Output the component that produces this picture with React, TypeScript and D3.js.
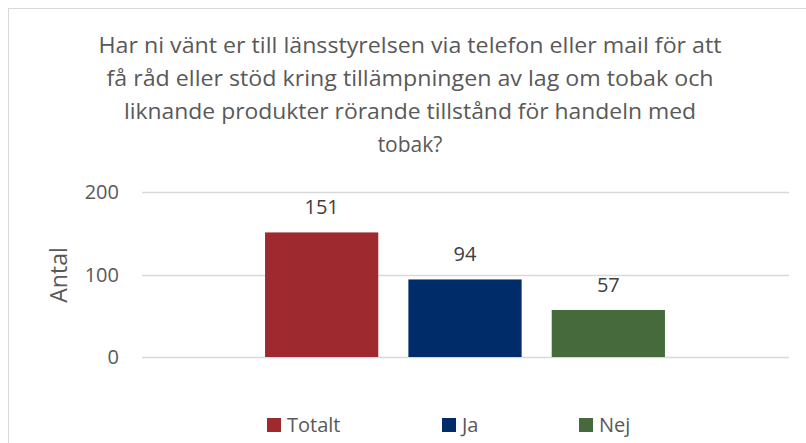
import React, { useEffect, useRef } from "react";
import * as d3 from "d3";

const titleLines = [
  "Har ni vänt er till länsstyrelsen via telefon eller mail för att",
  "få råd eller stöd kring tillämpningen av lag om tobak och",
  "liknande produkter rörande tillstånd för handeln med",
  "tobak?",
];
const seriesNames = ["Totalt", "Ja", "Nej"];
const seriesValues = [151, 94, 57];
const seriesColors = ["#9E2A2F", "#002D69", "#466A3C"];
const yTicks = [0, 100, 200];
const yLabel = "Antal";

export default function App() {
  const ref = useRef<SVGSVGElement>(null);

  useEffect(() => {
    const svg = d3.select(ref.current);
    svg.selectAll("*").remove();

    const font = "'Open Sans', sans-serif";
    const textColor = "#595959";

    // chart border (runs off the right/bottom edge like the original)
    svg.append("rect")
      .attr("x", 8.5).attr("y", 8.5)
      .attr("width", 820).attr("height", 460)
      .attr("fill", "#fff")
      .attr("stroke", "#D9D9D9");

    // title, squeezed a bit to the original line widths
    const titleWidths = [623, 607, 572, 0];
    svg.append("g").selectAll("text")
      .data(titleLines)
      .enter().append("text")
      .attr("x", 410)
      .attr("y", (d, i) => 53 + i * 33)
      .attr("text-anchor", "middle")
      .attr("font-family", font)
      .attr("font-size", 21)
      .attr("fill", textColor)
      .each(function (d, i) {
        if (titleWidths[i]) {
          d3.select(this).attr("textLength", titleWidths[i]).attr("lengthAdjust", "spacingAndGlyphs");
        }
      })
      .text(d => d);

    const y = d3.scaleLinear().domain([0, 200]).range([357, 192]);
    const x = d3.scaleBand<string>()
      .domain(seriesNames)
      .range([250, 680])
      .paddingInner(0.21)
      .paddingOuter(0.105);

    // gridlines
    svg.append("g").selectAll("line")
      .data(yTicks)
      .enter().append("line")
      .attr("x1", 142).attr("x2", 789)
      .attr("y1", d => Math.round(y(d)) + 0.5)
      .attr("y2", d => Math.round(y(d)) + 0.5)
      .attr("stroke", "#D9D9D9")
      .attr("stroke-width", 1.5);

    // y tick labels
    svg.append("g").selectAll("text")
      .data(yTicks)
      .enter().append("text")
      .attr("x", 119)
      .attr("y", d => y(d) + 7)
      .attr("text-anchor", "end")
      .attr("font-family", font)
      .attr("font-size", 20)
      .attr("fill", textColor)
      .text(d => d3.format("d")(d));

    // axis title
    svg.append("text")
      .attr("transform", "translate(67,275) rotate(-90)")
      .attr("text-anchor", "middle")
      .attr("font-family", font)
      .attr("font-size", 23)
      .attr("fill", textColor)
      .text(yLabel);

    const data = seriesNames.map((name, i) => ({ name, value: seriesValues[i], color: seriesColors[i] }));

    // bars
    svg.append("g").selectAll("rect")
      .data(data)
      .enter().append("rect")
      .attr("x", d => x(d.name)!)
      .attr("width", x.bandwidth())
      .attr("y", d => y(d.value))
      .attr("height", d => y(0) - y(d.value))
      .attr("fill", d => d.color);

    // value labels
    svg.append("g").selectAll("text")
      .data(data)
      .enter().append("text")
      .attr("x", d => x(d.name)! + x.bandwidth() / 2)
      .attr("y", d => y(d.value) - 18)
      .attr("text-anchor", "middle")
      .attr("font-family", font)
      .attr("font-size", 20)
      .attr("fill", "#404040")
      .text(d => d.value);

    // legend
    const legendX = [267, 442, 579];
    const legend = svg.append("g").selectAll("g")
      .data(data)
      .enter().append("g")
      .attr("transform", (d, i) => "translate(" + legendX[i] + ",418)");
    legend.append("rect")
      .attr("width", 14).attr("height", 14)
      .attr("fill", d => d.color);
    legend.append("text")
      .attr("x", 20).attr("y", 14)
      .attr("font-family", font)
      .attr("font-size", 20)
      .attr("fill", textColor)
      .text(d => d.name);
  }, []);

  return (
    <svg ref={ref} width={806} height={443}
      style={{ position: "absolute", left: 0, top: 0, background: "#fff" }} />
  );
}
